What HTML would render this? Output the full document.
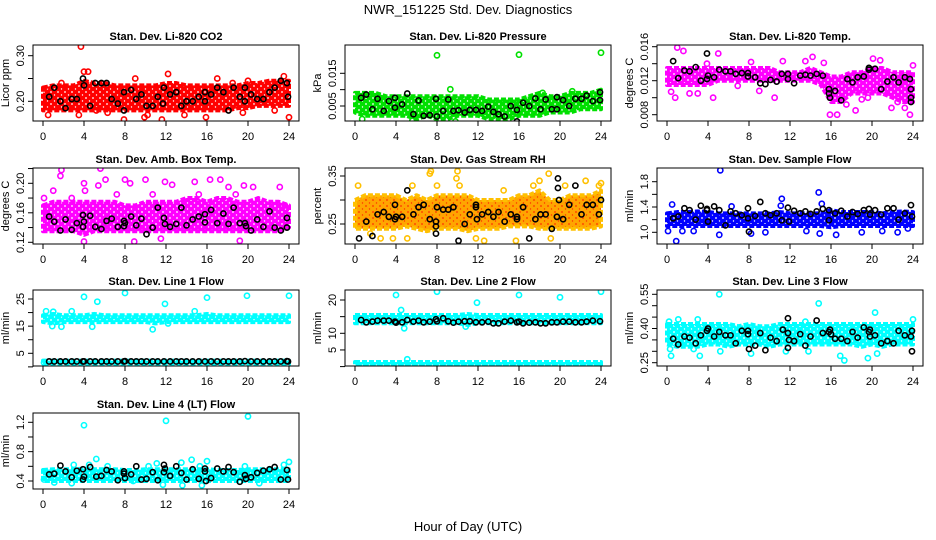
<!DOCTYPE html>
<html><head><meta charset="utf-8"><title>NWR_151225 Std. Dev. Diagnostics</title>
<style>
html,body{margin:0;padding:0;background:#fff;}
svg{display:block;font-family:"Liberation Sans",Arial,sans-serif;}
</style></head>
<body>
<svg id="chart" width="936" height="540" viewBox="0 0 936 540">
<text x="468" y="14" text-anchor="middle" font-size="13">NWR_151225  Std. Dev. Diagnostics</text>
<text x="468" y="531" text-anchor="middle" font-size="13">Hour of Day (UTC)</text>
</svg>
<script>
// ---------- data ----------
const hours = [0,1,2,3,4,5,6,7,8,9,10,11,12,13,14,15,16,17,18,19,20,21,22,23,24];
const xTicks = [0,4,8,12,16,20,24];

const co2Lo = [0.18,0.18,0.18,0.18,0.18,0.18,0.18,0.18,0.18,0.18,0.18,0.18,0.18,0.18,0.18,0.18,0.18,0.18,0.18,0.185,0.185,0.19,0.19,0.19,0.19];
const co2Hi = [0.23,0.235,0.235,0.235,0.245,0.24,0.24,0.235,0.235,0.235,0.235,0.235,0.24,0.24,0.235,0.235,0.235,0.235,0.235,0.235,0.24,0.24,0.245,0.245,0.245];
const co2Pts = [3.7,0.32,0.5,0.17,4,0.265,4.4,0.265,7.9,0.16,9.9,0.165,10.2,0.17,11.6,0.16,12.2,0.26,17,0.25,20,0.245,24,0.165,23.5,0.255,15.9,0.165,13.8,0.17,0.2,0.21,3.5,0.17,6.3,0.175,9,0.25,18.5,0.24,22.6,0.18,19.5,0.175,1.8,0.24,5.2,0.18];
const co2Blk = [0.6,0.21,1.1,0.23,1.7,0.2,2.2,0.185,2.8,0.205,3.3,0.205,3.9,0.25,4,0.235,4.6,0.19,5.1,0.24,5.7,0.24,6.2,0.24,6.7,0.205,7.3,0.195,7.9,0.22,7.9,0.18,8.6,0.225,9.1,0.205,9.6,0.215,10.1,0.19,10.7,0.19,11.2,0.21,11.8,0.23,11.7,0.195,12.4,0.215,13,0.22,13.5,0.19,14,0.2,14.6,0.2,15.2,0.21,15.8,0.22,15.8,0.2,16.4,0.215,17,0.23,17.6,0.22,18.1,0.18,18.6,0.23,19.2,0.21,19.7,0.23,19.7,0.2,20.3,0.215,20.9,0.205,21.5,0.205,22.1,0.22,22.6,0.23,23.2,0.245,23.8,0.24,23.9,0.21];

const presLo = [0.003,0.002,0.002,0.002,0.002,0.002,0.001,0.002,0.001,0.001,0.002,0.002,0.002,0.001,0.001,0.001,0.002,0.002,0.002,0.003,0.003,0.003,0.004,0.004,0.004];
const presHi = [0.009,0.009,0.009,0.008,0.008,0.008,0.008,0.008,0.008,0.008,0.008,0.008,0.008,0.007,0.007,0.007,0.007,0.008,0.009,0.008,0.008,0.009,0.009,0.009,0.01];
const presPts = [8,0.0205,16,0.0207,24,0.0213,9.3,0.0101,21.2,0.0095,18.3,0.009,0.7,0.001,5.6,0.0005,9.8,0.0003];
const presBlk = [0.6,0.0075,1.1,0.0085,1.7,0.004,2.2,0.0072,2.8,0.0035,3.3,0.0065,3.9,0.0075,3.9,0.0045,4.6,0.0055,5.1,0.0088,5.7,0.0025,6.2,0.0067,6.7,0.002,7.3,0.0022,7.9,0.0072,8,0.0018,8.6,0.0035,9.1,0.007,9.6,0.0035,10.1,0.0037,10.7,0.003,11.2,0.0038,11.8,0.0038,12.4,0.0035,13,0.0048,13.5,0.0032,14,0.0025,14.6,0.0018,15.2,0.005,15.8,0.0038,15.8,0.0003,16.4,0.006,17,0.005,17.6,0.0073,18.1,0.004,18.6,0.007,19.2,0.004,19.7,0.0077,19.7,0.004,20.3,0.0068,20.9,0.005,21.5,0.0072,22.1,0.0072,22.6,0.0082,23.2,0.0065,23.9,0.0092,23.9,0.0068];

const tempLo = [0.0115,0.0115,0.0115,0.0115,0.0115,0.012,0.012,0.012,0.012,0.012,0.012,0.012,0.012,0.012,0.012,0.0115,0.0095,0.0095,0.0105,0.0105,0.0105,0.0105,0.01,0.0095,0.0095];
const tempHi = [0.0135,0.0135,0.0135,0.0135,0.0135,0.0135,0.0135,0.0135,0.0135,0.0135,0.0135,0.013,0.013,0.013,0.0135,0.013,0.0125,0.0125,0.013,0.013,0.0135,0.0135,0.013,0.013,0.013];
const tempPts = [0.4,0.0107,0.8,0.01,1,0.0159,1.6,0.0155,2.2,0.0105,3,0.0105,3.9,0.014,4.5,0.01,5,0.0152,6.9,0.0114,8.2,0.0142,9,0.0108,10.5,0.01,11.3,0.0143,13.5,0.0143,14.2,0.0148,15.3,0.0141,15.9,0.008,16.6,0.008,17.5,0.0092,18.4,0.0085,19,0.0098,19.6,0.01,20.1,0.0146,20.8,0.0144,21.9,0.0088,22.5,0.0095,23.2,0.0088,23.7,0.008,24,0.0138];
const tempBlk = [0.6,0.0143,1.1,0.0123,1.7,0.0132,2.2,0.0131,2.8,0.0136,3.3,0.012,3.9,0.0152,3.9,0.0122,4,0.0126,4.6,0.0124,5.1,0.0133,5.7,0.0131,6.2,0.0131,6.7,0.0128,7.3,0.0129,7.9,0.0125,7.9,0.0129,8.6,0.0124,9.1,0.0117,9.6,0.0116,10.1,0.0121,10.7,0.0119,11.2,0.0128,11.8,0.0128,11.8,0.0122,12.4,0.0117,13,0.0126,13.5,0.0127,14,0.0126,14.6,0.0128,15.2,0.0126,15.8,0.011,15.8,0.0105,15.9,0.01,16.4,0.0108,17,0.0097,17.6,0.0122,18.1,0.0118,18.6,0.0124,19.2,0.0125,19.7,0.0133,19.7,0.0135,20.3,0.0134,20.9,0.011,21.5,0.0119,22.1,0.0124,22.6,0.0118,23.2,0.0124,23.7,0.0122,23.8,0.011,23.8,0.01,23.8,0.0095];

const ambLo = [0.135,0.135,0.135,0.135,0.13,0.135,0.135,0.135,0.135,0.135,0.135,0.135,0.135,0.135,0.135,0.135,0.135,0.135,0.135,0.135,0.135,0.135,0.135,0.135,0.14];
const ambHi = [0.17,0.175,0.175,0.175,0.175,0.175,0.175,0.175,0.17,0.17,0.175,0.175,0.175,0.175,0.18,0.18,0.175,0.18,0.18,0.175,0.175,0.18,0.175,0.175,0.17];
const ambPts = [0.1,0.18,1,0.19,1.7,0.21,1.8,0.218,2.8,0.18,4,0.2,4.1,0.19,4,0.121,5.4,0.197,5.6,0.22,6.1,0.205,7.2,0.185,8,0.205,8.5,0.2,8.9,0.121,10,0.205,10.7,0.185,11.5,0.125,11.9,0.202,12.6,0.198,14.8,0.202,15.2,0.185,16.3,0.205,17.3,0.205,18.1,0.195,18.8,0.185,19.2,0.122,19.6,0.197,20.5,0.195,23.1,0.195,23.6,0.17];
const ambBlk = [0.6,0.155,1.1,0.148,1.7,0.136,2.2,0.151,2.8,0.137,3.3,0.146,3.9,0.157,3.9,0.141,4,0.148,4.6,0.156,5.1,0.141,5.7,0.138,6.2,0.149,6.7,0.152,7.3,0.141,7.9,0.149,7.9,0.142,8,0.146,8.6,0.155,9.1,0.143,9.6,0.152,10.1,0.131,10.7,0.14,11.2,0.167,11.8,0.153,11.9,0.145,12.4,0.141,13,0.145,13.5,0.167,14,0.143,14.6,0.151,15.2,0.155,15.8,0.158,15.8,0.147,16.4,0.164,17,0.146,17.6,0.159,18.1,0.145,18.6,0.167,19.2,0.146,19.7,0.146,19.8,0.142,20.3,0.136,20.9,0.151,21.5,0.141,22.1,0.162,22.6,0.14,23.2,0.136,23.8,0.153,23.8,0.14];

const rhLo = [0.24,0.24,0.24,0.24,0.24,0.245,0.24,0.235,0.24,0.24,0.24,0.235,0.24,0.24,0.24,0.245,0.245,0.245,0.24,0.24,0.24,0.24,0.24,0.24,0.245];
const rhHi = [0.3,0.31,0.31,0.31,0.31,0.3,0.31,0.3,0.31,0.31,0.31,0.31,0.3,0.3,0.3,0.3,0.31,0.31,0.32,0.3,0.3,0.31,0.31,0.31,0.32];
const rhPts = [0.3,0.33,1.5,0.23,2.5,0.22,3.7,0.22,5.1,0.22,5.6,0.33,7.3,0.355,7.4,0.36,8,0.33,9.9,0.345,10,0.36,10.2,0.33,11.8,0.22,12.6,0.215,14.5,0.32,15.7,0.215,17.4,0.33,18,0.34,18.9,0.355,19.1,0.22,20.5,0.33,22.5,0.34,23.8,0.33,24,0.335];
const rhBlk = [0.4,0.22,1.1,0.255,1.7,0.225,2.2,0.27,2.8,0.275,3.3,0.265,3.9,0.29,3.9,0.26,4,0.265,4.6,0.265,5.1,0.32,5.7,0.27,6.2,0.285,6.7,0.29,7.3,0.26,7.9,0.255,7.9,0.245,7.9,0.23,8,0.285,8.6,0.28,9.1,0.28,9.6,0.285,10.1,0.215,10.7,0.25,11.2,0.27,11.8,0.285,11.8,0.29,11.9,0.26,12.4,0.27,13,0.275,13.5,0.265,14,0.275,14.6,0.255,15.2,0.27,15.8,0.265,15.8,0.26,16.4,0.285,17,0.22,17.6,0.26,18.1,0.27,18.6,0.27,19.2,0.24,19.7,0.265,19.8,0.325,19.8,0.345,19.9,0.3,20.3,0.26,20.9,0.29,21.5,0.33,22.1,0.27,22.6,0.29,23.2,0.29,23.8,0.27,24,0.3];

const sfLo = [1.1,1.1,1.1,1.1,1.1,1.1,1.1,1.1,1.1,1.1,1.1,1.1,1.1,1.1,1.1,1.1,1.08,1.1,1.1,1.1,1.1,1.1,1.1,1.1,1.1];
const sfHi = [1.3,1.32,1.32,1.33,1.32,1.3,1.3,1.3,1.3,1.3,1.3,1.32,1.3,1.3,1.3,1.3,1.35,1.32,1.32,1.32,1.32,1.3,1.32,1.33,1.32];
const sfPts = [0.1,1.02,0.5,1.44,0.9,0.86,1.5,1.02,2.6,1.02,5.1,0.96,5.2,1.98,6.3,1.41,8.2,0.98,9.6,1.0,11.2,1.53,11.1,1.42,13.6,1.02,14.8,1.63,14.9,0.98,15.1,1.45,16.5,0.96,19,1.0,21,1.02,22.5,1.0,23.5,1.06];
const sfBlk = [0.6,1.22,1.1,1.25,1.7,1.38,2.2,1.35,2.8,1.2,3.3,1.42,3.9,1.37,3.9,1.35,4,1.17,4.6,1.41,5.1,1.35,5.7,1.11,6.2,1.33,6.7,1.3,7.3,1.27,7.9,1.38,7.9,1.22,8,1.01,8.6,1.26,9.1,1.48,9.6,1.3,10.1,1.27,10.7,1.3,11.2,1.19,11.8,1.39,11.9,1.17,12.4,1.34,13,1.3,13.5,1.33,14,1.29,14.6,1.33,15.2,1.37,15.8,1.35,15.8,1.19,16.4,1.3,17,1.34,17.6,1.25,18.1,1.32,18.6,1.29,19.2,1.35,19.7,1.37,19.8,1.28,20.3,1.35,20.9,1.28,21.5,1.38,22.1,1.38,22.6,1.2,23.2,1.3,23.8,1.43,23.9,1.25];

const l1Lo = [16.5,16,16.5,16.5,16.5,16.5,16.5,16.5,16.5,16.5,16.5,16,16.5,16.5,16.5,16.5,16.5,16.5,16.5,16.5,16.5,16.5,16.5,16.5,16.5];
const l1Hi = [19,19.5,19,19,19,19.5,19,19,19,19,19,19,19,19,19,19,19.5,19,19,19,19,19,19,19,19];
const l1Lo2 = [1,1,1,1,1,1,1,1,1,1,1,1,1,1,1,1,1,1,1,1,1,1,1,1,1];
const l1Hi2 = [2.3,2.3,2.3,2.3,2.3,2.3,2.3,2.3,2.3,2.3,2.3,2.3,2.3,2.3,2.3,2.3,2.3,2.3,2.3,2.3,2.3,2.3,2.3,2.3,2.3];
const l1Pts = [0.3,20.5,0.9,15,1,20.3,1.8,14.8,2.8,20.5,4,25.8,4.8,14.8,5.3,24,8,27.2,10.7,13.8,11.9,23.2,12.2,16,14.8,20.5,16,25.5,19.9,26.2,24,26.2,0.1,1.6];
const l1Blk = [0.6,2,1.1,2,1.7,2,2.2,2,2.8,2,3.3,2,3.9,2,4,2,4.6,2,5.1,2,5.7,2,6.2,2,6.7,2,7.3,2,7.9,2,8,2.1,8.6,2,9.1,2,9.6,2,10.1,2,10.7,2,11.2,2,11.8,2,12.4,2,13,2,13.5,2,14,2,14.6,2,15.2,2,15.8,2,16.4,2,17,2,17.6,2,18.1,2,18.6,2,19.2,2,19.7,2.1,20.3,2,20.9,2,21.5,2,22.1,2,22.6,2,23.2,2,23.8,2.1,23.9,2];

const l2Lo = [13,13,13,13,13,13,13,13,13,13,13,12.5,13,13,13,13,13,13,13,13,13,13,13,13,13];
const l2Hi = [15.5,15.5,15.5,15.5,15.5,15.5,15.5,15.5,15.5,15.5,15.5,15.8,15.5,15.5,15.5,15.5,15.5,15.5,15.5,15.5,15.5,15.5,15.5,15.5,15.5];
const l2Lo2 = [0.3,0.3,0.3,0.3,0.3,0.3,0.3,0.3,0.3,0.3,0.3,0.3,0.3,0.3,0.3,0.3,0.3,0.3,0.3,0.3,0.3,0.3,0.3,0.3,0.3];
const l2Hi2 = [1.4,1.4,1.4,1.4,1.4,1.4,1.4,1.4,1.4,1.4,1.4,1.4,1.4,1.4,1.4,1.4,1.4,1.4,1.4,1.4,1.4,1.4,1.4,1.4,1.4];
const l2Pts = [4,21.5,4.5,17,4.8,11.5,8,22.5,11.9,19.2,16,21.5,20,20.8,24,22.5,10.8,12,5.1,2.2];
const l2Blk = [0.6,14,1.1,13.3,1.7,13.5,2.2,13.8,2.8,13.8,3.3,13.8,3.9,13.5,4,13.2,4.6,13.3,5.1,14,5.7,13.5,6.2,13.8,6.7,13.3,7.3,13.5,7.9,14.2,8,13.6,8.6,14.5,9.1,13.6,9.6,13.2,10.1,13.5,10.7,13.6,11.2,13.6,11.8,13.3,12.4,13.3,13,13.5,13.5,13,14,13,14.6,13.5,15.2,13.8,15.8,13.3,16,13.5,16.4,13,17,13.2,17.6,13.3,18.1,13,18.6,13,19.2,13.3,19.7,13.3,20.3,13.5,20.9,13.5,21.5,13.3,22.1,13.3,22.6,13.5,23.2,13.8,23.9,13.6];

const l3Lo = [0.33,0.32,0.32,0.32,0.33,0.33,0.32,0.33,0.33,0.33,0.32,0.33,0.33,0.33,0.33,0.33,0.33,0.33,0.33,0.32,0.33,0.32,0.33,0.33,0.33];
const l3Hi = [0.42,0.42,0.42,0.42,0.42,0.42,0.42,0.41,0.42,0.41,0.41,0.42,0.42,0.42,0.42,0.42,0.42,0.42,0.42,0.42,0.42,0.42,0.42,0.42,0.42];
const l3Pts = [0.2,0.43,0.3,0.31,0.4,0.28,1.1,0.44,2.6,0.31,3,0.44,3.2,0.28,5.1,0.55,5.2,0.3,8.2,0.29,11.6,0.3,13.5,0.43,13.8,0.3,14.8,0.51,16.9,0.28,17.3,0.26,19.6,0.27,20.3,0.47,20.5,0.29,24,0.44];
const l3Blk = [0.6,0.355,1.1,0.33,1.7,0.365,2.2,0.36,2.8,0.335,3.3,0.37,3.9,0.39,4,0.4,4.6,0.365,5.1,0.385,5.7,0.37,6.2,0.37,6.7,0.335,7.3,0.39,7.9,0.375,7.9,0.39,8,0.31,8.6,0.325,9.1,0.38,9.6,0.305,10.1,0.36,10.7,0.345,11.3,0.395,11.8,0.445,11.8,0.38,11.9,0.35,11.8,0.315,12.4,0.345,13,0.375,13.5,0.325,14,0.365,14.6,0.435,15.2,0.38,15.8,0.385,15.9,0.395,16,0.375,16.4,0.355,17,0.355,17.6,0.345,18.1,0.385,18.6,0.36,19.2,0.405,19.7,0.385,19.8,0.395,19.8,0.365,20.3,0.37,20.9,0.335,21.5,0.345,22.1,0.335,22.6,0.39,23.2,0.37,23.8,0.365,23.9,0.39,23.9,0.3];

const l4Lo = [0.4,0.4,0.4,0.4,0.4,0.4,0.4,0.4,0.4,0.4,0.4,0.4,0.4,0.4,0.4,0.4,0.4,0.4,0.4,0.4,0.4,0.4,0.4,0.4,0.4];
const l4Hi = [0.55,0.56,0.56,0.56,0.57,0.56,0.56,0.56,0.55,0.55,0.56,0.56,0.56,0.56,0.56,0.56,0.56,0.55,0.55,0.55,0.56,0.56,0.56,0.56,0.56];
const l4Pts = [0.1,0.42,1.1,0.38,2.8,0.37,3,0.62,4,1.16,4.5,0.62,5.2,0.7,6.3,0.6,8.8,0.4,10.3,0.6,11.1,0.64,11.7,0.35,12,1.22,13.5,0.65,13.6,0.34,14.5,0.69,15.3,0.6,15.5,0.34,16,0.67,19.7,0.6,20,1.28,21.1,0.37,23.5,0.62,24,0.66];
const l4Blk = [0.6,0.49,1.1,0.5,1.7,0.61,2.2,0.53,2.8,0.45,3.3,0.54,3.9,0.56,3.9,0.42,4,0.46,4.6,0.59,5.2,0.46,5.7,0.47,6.2,0.55,6.7,0.53,7.3,0.41,7.9,0.53,7.9,0.5,8,0.44,8.6,0.49,9.1,0.6,9.6,0.42,10.1,0.43,10.7,0.52,11.2,0.41,11.8,0.62,11.9,0.57,11.8,0.52,12.4,0.47,13,0.6,13.5,0.51,14,0.42,14.6,0.56,15.2,0.43,15.8,0.57,15.8,0.53,15.9,0.4,16.4,0.44,17,0.57,17.6,0.53,18.1,0.59,18.6,0.52,19.2,0.39,19.7,0.48,19.8,0.43,20.3,0.45,20.9,0.51,21.5,0.54,22.1,0.56,22.6,0.59,23.2,0.42,23.8,0.55,23.9,0.42];

// ---------- layout config ----------
const panels = [
 {id:'co2',title:'Stan. Dev. Li-820 CO2',ylab:'Licor ppm',col:0,row:0,color:'#ff0000',lo:co2Lo,hi:co2Hi,pts:co2Pts,blk:co2Blk,v1:0.30,p1:10.7,v2:0.20,p2:56.3,ticks:[0.20,0.25,0.30],labels:['0.20','0.30']},
 {id:'pressure',title:'Stan. Dev. Li-820 Pressure',ylab:'kPa',col:1,row:0,color:'#00e000',lo:presLo,hi:presHi,pts:presPts,blk:presBlk,v1:0.015,p1:28.3,v2:0.005,p2:61,ticks:[0.005,0.010,0.015],labels:['0.005','0.015']},
 {id:'temp',title:'Stan. Dev. Li-820 Temp.',ylab:'degrees C',col:2,row:0,color:'#ff00ff',lo:tempLo,hi:tempHi,pts:tempPts,blk:tempBlk,v1:0.016,p1:1.7,v2:0.008,p2:69.7,ticks:[0.008,0.010,0.012,0.014,0.016],labels:['0.008','0.012','0.016']},
 {id:'amb',title:'Stan. Dev. Amb. Box Temp.',ylab:'degrees C',col:0,row:1,color:'#ff00ff',lo:ambLo,hi:ambHi,pts:ambPts,blk:ambBlk,v1:0.20,p1:15.3,v2:0.12,p2:74.3,ticks:[0.12,0.14,0.16,0.18,0.20,0.22],labels:['0.12','0.16','0.20']},
 {id:'rh',title:'Stan. Dev. Gas Stream RH',ylab:'percent',col:1,row:1,color:'#ffa500',pcol:'#ffc000',dot:'#ff3000',lo:rhLo,hi:rhHi,pts:rhPts,blk:rhBlk,v1:0.35,p1:8,v2:0.25,p2:56,ticks:[0.25,0.30,0.35],labels:['0.25','0.35']},
 {id:'sample',title:'Stan. Dev. Sample Flow',ylab:'ml/min',col:2,row:1,color:'#0000ff',lo:sfLo,hi:sfHi,pts:sfPts,blk:sfBlk,v1:1.8,p1:13.7,v2:1.0,p2:64.3,ticks:[1.0,1.2,1.4,1.6,1.8],labels:['1.0','1.4','1.8']},
 {id:'line1',title:'Stan. Dev. Line 1 Flow',ylab:'ml/min',col:0,row:2,color:'#00ffff',lo:l1Lo,hi:l1Hi,lo2:l1Lo2,hi2:l1Hi2,pts:l1Pts,blk:l1Blk,v1:25,p1:9,v2:5,p2:63.3,ticks:[0,5,10,15,20,25],labels:['5','15','25']},
 {id:'line2',title:'Stan. Dev. Line 2 Flow',ylab:'ml/min',col:1,row:2,color:'#00ffff',lo:l2Lo,hi:l2Hi,lo2:l2Lo2,hi2:l2Hi2,pts:l2Pts,blk:l2Blk,v1:20,p1:10,v2:10,p2:43.3,ticks:[0,5,10,15,20],labels:['5','10','20']},
 {id:'line3',title:'Stan. Dev. Line 3 Flow',ylab:'ml/min',col:2,row:2,color:'#00ffff',lo:l3Lo,hi:l3Hi,pts:l3Pts,blk:l3Blk,v1:0.55,p1:4.3,v2:0.25,p2:72.7,ticks:[0.25,0.30,0.35,0.40,0.45,0.50,0.55],labels:['0.25','0.40','0.55']},
 {id:'line4',title:'Stan. Dev. Line 4 (LT) Flow',ylab:'ml/min',col:0,row:3,color:'#00ffff',lo:l4Lo,hi:l4Hi,pts:l4Pts,blk:l4Blk,v1:1.2,p1:9.3,v2:0.4,p2:68,ticks:[0.4,0.6,0.8,1.0,1.2],labels:['0.4','0.8','1.2']}
];
const colLeft=[33,345,657], rowTop=[45,168,290,413], W=266, H=76;

const NS='http://www.w3.org/2000/svg';
const svg=document.getElementById('chart');
function mk(tag,attrs,parent){const e=document.createElementNS(NS,tag);for(const k in attrs)e.setAttribute(k,attrs[k]);(parent||svg).appendChild(e);return e;}
const defs=mk('defs',{});

panels.forEach(p=>{
  const L=colLeft[p.col], T=rowTop[p.row];
  const xs=v=>L+10+v*(246/24);
  const ys=v=>T+p.p2+(v-p.v2)*(p.p1-p.p2)/(p.v1-p.v2);
  // speckle texture pattern for dense band
  const pat=mk('pattern',{id:'pat-'+p.id,width:7,height:6,patternUnits:'userSpaceOnUse'},defs);
  mk('rect',{x:0,y:0,width:7,height:6,fill:p.color},pat);
  mk('circle',{cx:2,cy:2,r:0.9,fill:p.dot||'#ffffff'},pat);
  mk('circle',{cx:5.5,cy:5,r:0.7,fill:p.dot||'#ffffff'},pat);
  const g=mk('g',{});
  
  
  const cp=mk('clipPath',{id:'clip-'+p.id},g);
  mk('rect',{x:L,y:T,width:W,height:H},cp);
  const plot=mk('g',{'clip-path':'url(#clip-'+p.id+')'},g);
  
  
  function band(lo,hi,name){
    let pts=[];
    hours.forEach((h,i)=>pts.push(xs(h)+','+ys(hi[i])));
    for(let i=hours.length-1;i>=0;i--)pts.push(xs(hours[i])+','+ys(lo[i]));
    const b=mk('polygon',{points:pts.join(' '),fill:'url(#pat-'+p.id+')',stroke:p.pcol||p.color,'stroke-width':4,'stroke-linejoin':'round','stroke-dasharray':'5 2'},plot);
    
    
  }
  band(p.lo,p.hi,p.id+'-dense-band');
  if(p.lo2) band(p.lo2,p.hi2,p.id+'-low-band');
  for(let i=0;i<p.pts.length;i+=2){
    const c=mk('circle',{cx:xs(p.pts[i]),cy:ys(p.pts[i+1]),r:2.6,fill:'none',stroke:p.pcol||p.color,'stroke-width':1.6},plot);
    
    
  }
  for(let i=0;i<p.blk.length;i+=2){
    const c=mk('circle',{cx:xs(p.blk[i]),cy:ys(p.blk[i+1]),r:2.6,fill:'none',stroke:'#000','stroke-width':1.6},plot);
    
    
  }
  const box=mk('rect',{x:L,y:T,width:W,height:H,fill:'none',stroke:'#000','stroke-width':1},g);
  
  
  const t=mk('text',{x:L+W/2,y:T-5,'text-anchor':'middle','font-size':11,'font-weight':'bold'},g);
  t.textContent=p.title;
  
  
  mk('line',{x1:xs(0),x2:xs(24),y1:T+H,y2:T+H,stroke:'#000'},g);
  xTicks.forEach(v=>{
    mk('line',{x1:xs(v),x2:xs(v),y1:T+H,y2:T+H+5,stroke:'#000'},g);
    const tl=mk('text',{x:xs(v),y:T+H+19,'text-anchor':'middle','font-size':11},g);
    tl.textContent=v;
    
    
  });
  const yt=p.ticks.map(ys);
  mk('line',{x1:L,x2:L,y1:Math.max(...yt),y2:Math.min(...yt),stroke:'#000'},g);
  p.ticks.forEach(v=>mk('line',{x1:L-5,x2:L,y1:ys(v),y2:ys(v),stroke:'#000'},g));
  p.labels.forEach(s=>{
    const y=ys(parseFloat(s));
    const tl=mk('text',{x:L-9,y:y,'text-anchor':'middle','font-size':11,transform:'rotate(-90 '+(L-9)+' '+y+')'},g);
    tl.textContent=s;
    
    
  });
  const yl=mk('text',{x:L-24,y:T+H/2,'text-anchor':'middle','font-size':11,transform:'rotate(-90 '+(L-24)+' '+(T+H/2)+')'},g);
  yl.textContent=p.ylab;
  
  
});
</script>
</body></html>
